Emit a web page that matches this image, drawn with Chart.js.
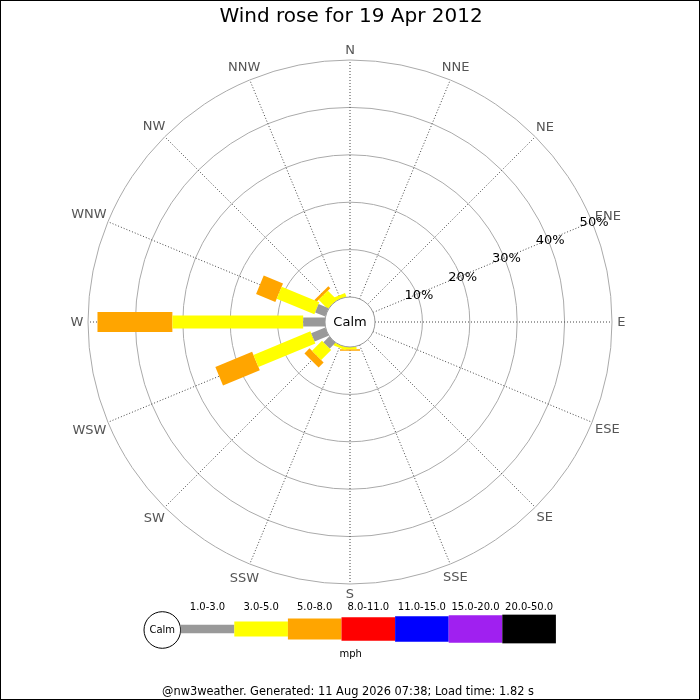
<!DOCTYPE html>
<html>
<head>
<meta charset="utf-8">
<script src="https://cdn.jsdelivr.net/npm/chart.js@4"></script>
<style>
html,body{margin:0;padding:0;background:#fff;}
#wrap{width:700px;height:700px;position:relative;}
</style>
</head>
<body>
<div id="wrap"><canvas id="c" width="700" height="700"></canvas></div>
<script>
// ---- data (percent of time) ----
const directions = ['N','NNE','NE','ENE','E','ESE','SE','SSE','S','SSW','SW','WSW','W','WNW','NW','NNW'];
const speedBins = ['1.0-3.0','3.0-5.0','5.0-8.0','8.0-11.0','11.0-15.0','15.0-20.0','20.0-50.0'];
//                 N  NNE NE ENE E ESE SE SSE  S   SSW  SW   WSW  W    WNW  NW   NNW
const speed1to3   = [0, 0, 0, 0, 0, 0, 0, 0, 0,   0,   1.7, 3.2, 4.6, 2.3, 0,   0];
const speed3to5   = [0, 0, 0, 0, 0, 0, 0, 0, 0.5, 0.6, 3.0, 13.0,27.6,8.6, 2.7, 0.8];
const speed5to8   = [0, 0, 0, 0, 0, 0, 0, 0, 0.3, 0,   1.5, 8.4, 15.8,4.4, 0.6, 0];
const speed8to11  = [0, 0, 0, 0, 0, 0, 0, 0, 0,   0,   0,   0,   0,   0,   0,   0];
const speed11to15 = [0, 0, 0, 0, 0, 0, 0, 0, 0,   0,   0,   0,   0,   0,   0,   0];
const speed15to20 = [0, 0, 0, 0, 0, 0, 0, 0, 0,   0,   0,   0,   0,   0,   0,   0];
const speed20to50 = [0, 0, 0, 0, 0, 0, 0, 0, 0,   0,   0,   0,   0,   0,   0,   0];
const rangeTicks = [10, 20, 30, 40, 50];
const rangeLabels = ['10%','20%','30%','40%','50%'];

const series = [speed1to3, speed3to5, speed5to8, speed8to11, speed11to15, speed15to20, speed20to50];

// ---- styles ----
const binColors = ['#999999','#ffff00','#ffa500','#ff0000','#0000ff','#a020f0','#000000'];
const binWidths = [9, 13, 20, 23, 26, 27, 29];
const PX = 4.74;          // pixels per percent
const CALM_PX = 25;       // calm circle radius in px
const CALM = CALM_PX / PX; // in percent units
const CX = 350, CY = 322;

const datasets = [];
const cum = directions.map(() => 0);
series.forEach((vals, b) => {
  directions.forEach((d, i) => {
    const v = vals[i];
    if (!v) return;
    const a = i * 22.5 * Math.PI / 180;
    const r0 = CALM + cum[i];
    const r1 = r0 + v;
    cum[i] += v;
    datasets.push({
      label: speedBins[b] + ' ' + d,
      data: [{x: r0 * Math.sin(a), y: r0 * Math.cos(a)}, {x: r1 * Math.sin(a), y: r1 * Math.cos(a)}],
      showLine: true,
      borderColor: binColors[b],
      backgroundColor: binColors[b],
      borderWidth: binWidths[b],
      borderCapStyle: 'butt',
      pointRadius: 0,
      pointHoverRadius: 0,
      fill: false
    });
  });
});

const FONT = '"DejaVu Sans", sans-serif';

const rosePlugin = {
  id: 'rose',
  beforeDatasetsDraw(chart) {
    const ctx = chart.ctx, xs = chart.scales.x, ys = chart.scales.y;
    const cx = xs.getPixelForValue(0), cy = ys.getPixelForValue(0);
    const rad = v => xs.getPixelForValue(v) - cx;
    ctx.save();
    ctx.strokeStyle = '#aaaaaa';
    ctx.lineWidth = 1;
    rangeTicks.forEach(t => {
      ctx.beginPath();
      ctx.arc(cx, cy, rad(CALM + t), 0, Math.PI * 2);
      ctx.stroke();
    });
    ctx.strokeStyle = '#444444';
    ctx.setLineDash([1, 2]);
    const rIn = rad(CALM), rOut = rad(CALM + rangeTicks[rangeTicks.length - 1]);
    directions.forEach((d, i) => {
      const a = i * 22.5 * Math.PI / 180;
      ctx.beginPath();
      ctx.moveTo(cx + rIn * Math.sin(a), cy - rIn * Math.cos(a));
      ctx.lineTo(cx + rOut * Math.sin(a), cy - rOut * Math.cos(a));
      ctx.stroke();
    });
    ctx.restore();
  },
  afterDatasetsDraw(chart) {
    const ctx = chart.ctx, xs = chart.scales.x, ys = chart.scales.y;
    const cx = xs.getPixelForValue(0), cy = ys.getPixelForValue(0);
    const rad = v => xs.getPixelForValue(v) - cx;
    ctx.save();
    // calm circle
    ctx.beginPath();
    ctx.arc(cx, cy, rad(CALM), 0, Math.PI * 2);
    ctx.fillStyle = '#ffffff';
    ctx.fill();
    ctx.strokeStyle = '#999999';
    ctx.lineWidth = 1;
    ctx.stroke();
    ctx.fillStyle = '#000';
    ctx.font = '13px ' + FONT;
    ctx.textAlign = 'center';
    ctx.textBaseline = 'middle';
    ctx.fillText('Calm', cx, cy + 1);
    // range labels along ENE
    const aL = 67.5 * Math.PI / 180;
    ctx.font = '13px ' + FONT;
    rangeTicks.forEach((t, k) => {
      const r = rad(CALM + t);
      ctx.fillText(rangeLabels[k], cx + r * Math.sin(aL) + 2, cy - r * Math.cos(aL) + 1);
    });
    // compass labels
    ctx.fillStyle = '#555555';
    ctx.font = '13px ' + FONT;
    const rBase = rad(CALM + rangeTicks[rangeTicks.length - 1]) + 6;
    directions.forEach((d, i) => {
      const a = i * 22.5 * Math.PI / 180;
      const w = ctx.measureText(d).width;
      const r = rBase + (w / 2) * 0.8 * Math.abs(Math.sin(a)) + 4 * Math.abs(Math.cos(a));
      ctx.fillText(d, cx + r * Math.sin(a), cy - r * Math.cos(a) + 1);
    });
    ctx.restore();
  },
  afterDraw(chart) {
    const ctx = chart.ctx;
    ctx.save();
    ctx.textAlign = 'center';
    ctx.textBaseline = 'middle';
    // title
    ctx.fillStyle = '#000';
    ctx.font = '20px ' + FONT;
    ctx.fillText('Wind rose for 19 Apr 2012', 351, 17);
    // legend
    const lx0 = 180.7, segW = 53.6, ly = 629;
    ctx.beginPath();
    ctx.arc(162.3, 630, 18.3, 0, Math.PI * 2);
    ctx.fillStyle = '#fff';
    ctx.fill();
    ctx.strokeStyle = '#000';
    ctx.lineWidth = 1;
    ctx.stroke();
    ctx.fillStyle = '#000';
    ctx.font = '10px ' + FONT;
    ctx.fillText('Calm', 162.3, 630.5);
    const legW = [8.5, 15, 21, 23.5, 25.5, 27.5, 28.7];
    speedBins.forEach((b, k) => {
      const x = lx0 + k * segW;
      ctx.fillStyle = binColors[k];
      ctx.fillRect(x, ly - legW[k] / 2, segW, legW[k]);
      ctx.fillStyle = '#000';
      ctx.font = '10px ' + FONT;
      ctx.fillText(b, x + segW / 2, 607);
    });
    ctx.font = '10px ' + FONT;
    ctx.fillText('mph', 350.7, 654);
    ctx.font = '11.4px ' + FONT;
    ctx.fillText('@nw3weather. Generated: 11 Aug 2026 07:38; Load time: 1.82 s', 348, 692);
    // frame
    ctx.strokeStyle = '#000';
    ctx.lineWidth = 1;
    ctx.strokeRect(0.5, 0.5, 699, 699);
    ctx.restore();
  }
};

new Chart(document.getElementById('c'), {
  type: 'scatter',
  data: { datasets },
  options: {
    responsive: false,
    animation: false,
    layout: { padding: 0 },
    plugins: { legend: { display: false }, title: { display: false }, tooltip: { enabled: false } },
    scales: {
      x: { type: 'linear', display: false, min: -CX / PX, max: (700 - CX) / PX },
      y: { type: 'linear', display: false, min: -(700 - CY) / PX, max: CY / PX }
    },
    elements: { line: { tension: 0 } }
  },
  plugins: [rosePlugin]
});
</script>
</body>
</html>
